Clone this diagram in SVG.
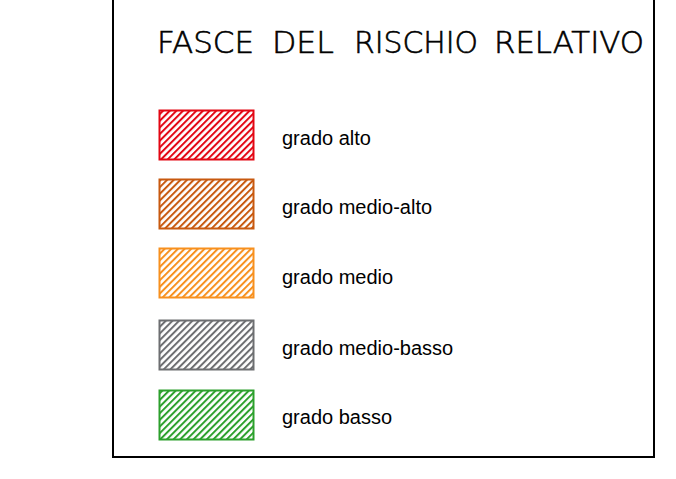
<svg xmlns="http://www.w3.org/2000/svg" width="676" height="479" viewBox="0 0 676 479">
<defs>
<style>
.lbl{font-family:"Liberation Sans",Arial,sans-serif;font-size:20px;fill:#000}
.title{font-family:"DejaVu Sans","Liberation Sans",sans-serif;font-size:30px;fill:#000;stroke:#000;stroke-width:0.6;font-weight:200}
</style>
<pattern id="hR" width="4.7" height="10" patternUnits="userSpaceOnUse" patternTransform="rotate(45)"><rect width="2" height="10" fill="#e30613"/></pattern>
<pattern id="hB" width="4.7" height="10" patternUnits="userSpaceOnUse" patternTransform="rotate(45)"><rect width="2" height="10" fill="#c8590f"/></pattern>
<pattern id="hO" width="4.7" height="10" patternUnits="userSpaceOnUse" patternTransform="rotate(45)"><rect width="2" height="10" fill="#f7901e"/></pattern>
<pattern id="hG" width="4.7" height="10" patternUnits="userSpaceOnUse" patternTransform="rotate(45)"><rect width="2" height="10" fill="#6d6e71"/></pattern>
<pattern id="hV" width="4.7" height="10" patternUnits="userSpaceOnUse" patternTransform="rotate(45)"><rect width="2" height="10" fill="#2ca02c"/></pattern>
</defs>
<rect width="676" height="479" fill="#fff"/>
<path d="M113,-5 V457 H654 V-5" fill="none" stroke="#000" stroke-width="2"/>
<g id="title">
<text class="title" x="157" y="52.5" textLength="97" lengthAdjust="spacingAndGlyphs">FASCE</text>
<text class="title" x="272" y="52.5" textLength="62" lengthAdjust="spacingAndGlyphs">DEL</text>
<text class="title" x="354" y="52.5" textLength="124" lengthAdjust="spacingAndGlyphs">RISCHIO</text>
<text class="title" x="494" y="52.5" textLength="150" lengthAdjust="spacingAndGlyphs">RELATIVO</text>
</g>
<g id="alto"><rect x="159.5" y="110.5" width="94" height="49" fill="url(#hR)" stroke="#e30613" stroke-width="2"/><text class="lbl" x="282" y="144.5">grado alto</text></g>
<g id="medio-alto"><rect x="159.5" y="179.5" width="94" height="49" fill="url(#hB)" stroke="#c8590f" stroke-width="2"/><text class="lbl" x="282" y="213.5">grado medio-alto</text></g>
<g id="medio"><rect x="159.5" y="248.5" width="94" height="49" fill="url(#hO)" stroke="#f7901e" stroke-width="2"/><text class="lbl" x="282" y="283.5">grado medio</text></g>
<g id="medio-basso"><rect x="159.5" y="320.5" width="94" height="49" fill="url(#hG)" stroke="#6d6e71" stroke-width="2"/><text class="lbl" x="282" y="354.5">grado medio-basso</text></g>
<g id="basso"><rect x="159.5" y="390.5" width="94" height="49" fill="url(#hV)" stroke="#2ca02c" stroke-width="2"/><text class="lbl" x="282" y="423.5">grado basso</text></g>
</svg>
